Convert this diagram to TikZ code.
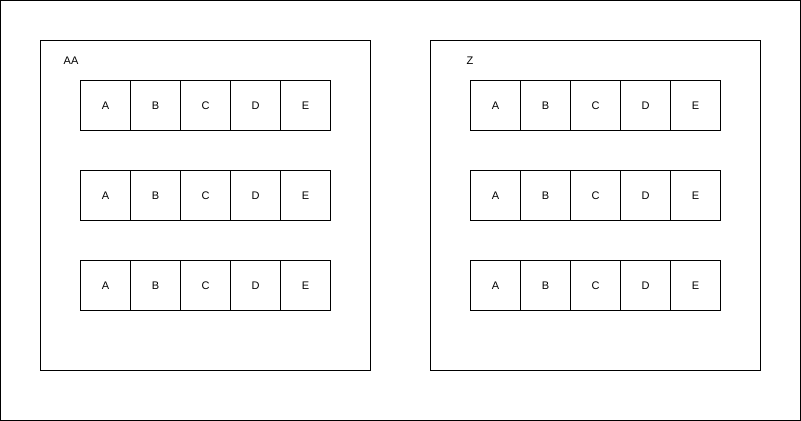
\documentclass[tikz,border=0pt]{standalone}
\usepackage{fontspec}
\setmainfont{Liberation Sans}
\begin{document}
\begin{tikzpicture}[x=0.75pt,y=-0.75pt,line width=0.75pt,
  cell/.style={draw=black,minimum width=37.5pt,minimum height=37.5pt,inner sep=0pt,outer sep=0pt,font=\fontsize{8.25}{10}\selectfont},
  lbl/.style={font=\fontsize{8.25}{10}\selectfont,inner sep=0pt}]
\useasboundingbox (0,0) rectangle (801,421);
\draw (0.5,0.5) rectangle (800.5,420.5);
\node[draw,minimum width=247.5pt,minimum height=247.5pt,inner sep=0pt,outer sep=0pt] (left) at (205.5,205.5) {};
\node[draw,minimum width=247.5pt,minimum height=247.5pt,inner sep=0pt,outer sep=0pt] (right) at (595.5,205.5) {};
\node[lbl] (laa) at (71,61) {AA};
\node[lbl] (lz) at (470,61) {Z};
\foreach \r/\y in {1/105.5,2/195.5,3/285.5}{
  \foreach \c/\t [count=\i from 0] in {1/A,2/B,3/C,4/D,5/E}{
    \node[cell] (l\r\c) at (105.5+50*\i,\y) {\t};
    \node[cell] (r\r\c) at (495.5+50*\i,\y) {\t};
  }
}
\end{tikzpicture}
\end{document}
